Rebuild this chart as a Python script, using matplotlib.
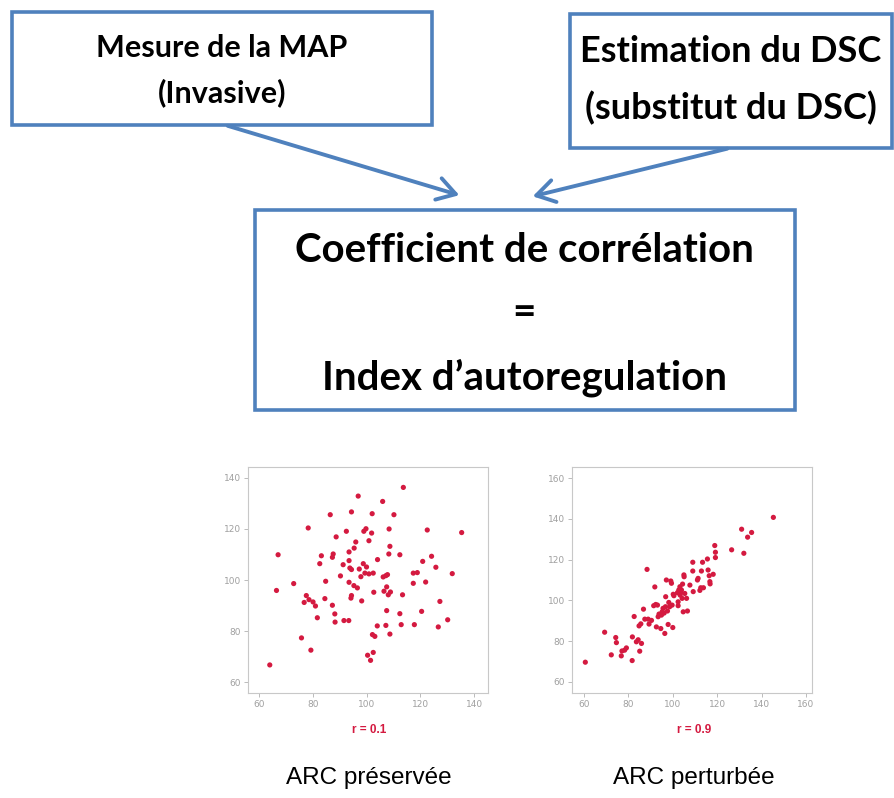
import numpy as np
import matplotlib
matplotlib.use("Agg")
import matplotlib.pyplot as plt
from matplotlib.patches import Rectangle, FancyArrowPatch

pres_x = [64.0, 66.5, 67.1, 72.9, 75.8, 78.3, 79.3, 76.8, 77.6, 78.6, 80.1, 81.0, 81.7, 82.6,
          83.2, 84.5, 84.8, 86.5, 87.3, 87.6, 87.3, 88.2, 88.3, 88.7, 90.3, 91.3, 91.6, 92.5,
          93.4, 93.5, 93.5, 93.8, 93.5, 94.4, 94.2, 94.4, 94.4, 95.4, 96.0, 95.3, 96.6, 96.9,
          97.3, 97.9, 98.2, 98.8, 99.0, 99.4, 99.8, 100.0, 100.9, 100.9, 100.4, 101.5, 101.9,
          102.1, 102.5, 102.2, 102.5, 103.1, 102.7, 104.1, 104.0, 106.0, 106.2, 106.5, 107.2,
          107.5, 107.5, 107.2, 107.8, 108.1, 108.3, 108.4, 108.7, 108.7, 108.9, 110.2, 112.4,
          112.4, 112.9, 113.4, 113.7, 117.4, 117.4, 117.8, 118.9, 120.5, 120.9, 122.0, 122.6,
          124.2, 125.8, 126.7, 127.3, 130.2, 131.9, 135.4]
pres_y = [66.7, 95.9, 109.9, 98.6, 77.3, 120.4, 72.5, 91.2, 93.9, 92.3, 91.4, 89.8, 85.2, 106.4,
          109.5, 92.7, 99.5, 125.6, 90.1, 110.2, 108.9, 86.7, 83.5, 116.9, 101.6, 106.0, 84.1,
          119.1, 84.1, 111.0, 107.6, 104.7, 99.1, 104.1, 92.9, 93.9, 126.7, 112.5, 114.9, 97.8,
          96.9, 132.9, 104.3, 101.3, 91.8, 106.4, 119.1, 102.7, 120.1, 105.1, 102.4, 115.4, 70.5,
          68.5, 118.4, 126.0, 102.7, 78.6, 71.6, 77.9, 95.2, 108.0, 82.0, 130.8, 101.2, 95.6,
          101.7, 97.3, 88.0, 82.2, 102.1, 94.2, 110.2, 120.0, 113.2, 78.8, 95.3, 125.6, 109.9,
          86.8, 82.5, 94.2, 136.3, 102.7, 98.7, 82.5, 102.9, 87.7, 107.3, 99.2, 119.6, 109.3,
          105.0, 81.6, 91.6, 84.4, 102.5, 118.6]

pert_x = [60.6, 69.3, 72.3, 74.3, 74.6, 76.8, 77.1, 78.3, 79.1, 81.7, 81.8, 82.6, 83.6, 84.4,
          84.8, 85.1, 85.6, 85.9, 86.8, 87.4, 88.4, 88.9, 89.3, 90.4, 91.4, 91.9, 92.3, 92.6,
          93.1, 93.4, 93.8, 94.6, 94.9, 95.2, 95.6, 96.1, 96.4, 96.7, 96.8, 97.1, 97.6, 97.9,
          98.2, 98.6, 99.1, 99.4, 99.7, 100.0, 100.2, 100.5, 102.1, 102.4, 102.7, 103.2, 103.3,
          103.6, 103.9, 104.2, 104.4, 104.7, 105.0, 105.1, 105.4, 106.2, 106.6, 107.7, 109.0,
          109.0, 109.2, 111.1, 111.4, 112.2, 112.6, 112.9, 113.4, 113.8, 115.6, 115.9, 116.4,
          116.7, 118.2, 118.9, 119.2, 119.2, 126.5, 131.0, 132.0, 133.7, 135.5, 145.3, 116.8,
          102.4]
pert_y = [69.7, 84.4, 73.3, 81.8, 79.3, 72.8, 75.2, 75.6, 76.7, 70.5, 82.1, 92.1, 79.7, 80.7,
          87.5, 75.1, 88.5, 78.9, 95.7, 90.8, 115.2, 90.8, 88.4, 90.2, 97.4, 106.6, 98.0, 87.0,
          97.7, 92.0, 93.3, 86.2, 92.8, 94.4, 96.1, 93.8, 83.8, 96.9, 101.8, 110.0, 94.8, 88.2,
          99.0, 96.9, 109.5, 108.4, 97.7, 86.7, 103.0, 102.3, 103.8, 97.4, 105.1, 106.7, 102.6,
          103.8, 105.1, 101.0, 108.0, 94.4, 112.5, 111.6, 103.4, 101.0, 94.8, 107.5, 118.7,
          114.4, 104.3, 110.0, 110.8, 104.9, 106.2, 114.4, 118.7, 106.2, 120.3, 114.9, 112.1,
          109.2, 112.8, 126.9, 123.6, 121.0, 124.8, 134.9, 123.1, 131.0, 133.3, 140.7, 108.1,
          99.3]

box_texts = [["Mesure de la MAP", "(Invasive)"],
             ["Estimation du DSC", "(substitut du DSC)"],
             ["Coefficient de corrélation", "=", "Index d\u2019autoregulation"]]
r_labels = ["r = 0.1", "r = 0.9"]
titles = ["ARC préservée", "ARC perturbée"]

BLUE = "#4F81BD"
RED = "#D41A40"
W, H = 894, 798

fig = plt.figure(figsize=(W / 100, H / 100), dpi=100)
bg = fig.add_axes([0, 0, 1, 1])
bg.set_xlim(0, W)
bg.set_ylim(H, 0)
bg.axis("off")

# cadres bleus
boxes = [(12, 12, 420, 113), (570, 14, 322, 134), (255, 210, 540, 200)]
for (x, y, w, h) in boxes:
    bg.add_patch(Rectangle((x, y), w, h, fill=False, edgecolor=BLUE, lw=2.6))

fnt = "Lato"
bg.text(222, 48, box_texts[0][0], ha="center", va="center", fontsize=22, family=fnt, weight="bold")
bg.text(222, 93, box_texts[0][1], ha="center", va="center", fontsize=22, family=fnt, weight="bold")
bg.text(731, 52, box_texts[1][0], ha="center", va="center", fontsize=26, family=fnt, weight="bold")
bg.text(731, 108, box_texts[1][1], ha="center", va="center", fontsize=26, family=fnt, weight="bold")
for txt, yy in zip(box_texts[2], [250, 313, 378]):
    bg.text(524, yy, txt, ha="center", va="center", fontsize=29, family=fnt, weight="bold")

# flèches
for (x0, y0), (x1, y1) in [((225, 125), (462, 196)), ((730, 148), (530, 197))]:
    bg.add_patch(FancyArrowPatch((x0, y0), (x1, y1), arrowstyle="->,head_length=13,head_width=8",
                                 lw=2.8, color=BLUE, mutation_scale=1))

# nuages de points
def px_axes(x0, y0, x1, y1):
    return fig.add_axes([x0 / W, 1 - y1 / H, (x1 - x0) / W, (y1 - y0) / H])

panels = [
    (px_axes(248, 467, 488, 693), pres_x, pres_y, (55.9, 145.2), (55.7, 144.3), [60, 80, 100, 120, 140], [60, 80, 100, 120, 140]),
    (px_axes(572, 467, 812, 693), pert_x, pert_y, (54.6, 162.7), (54.6, 165.4), [60, 80, 100, 120, 140, 160], [60, 80, 100, 120, 140, 160]),
]
for ax, xs, ys, xl, yl, xt, yt in panels:
    ax.scatter(xs, ys, s=14, color=RED, edgecolors="none", zorder=3)
    ax.set_xlim(*xl)
    ax.set_ylim(*yl)
    ax.set_xticks(xt)
    ax.set_yticks(yt)
    for sp in ax.spines.values():
        sp.set_color("#C8C8C8")
        sp.set_linewidth(0.8)
    ax.tick_params(direction="out", length=3, width=0.7, color="#BBBBBB",
                   labelcolor="#A0A0A0", labelsize=6.5, pad=2)

for xc, r, t in zip([369, 694], r_labels, titles):
    bg.text(xc, 730, r, ha="center", va="center", fontsize=8.5, color=RED, weight="bold",
            family="Liberation Sans")
    bg.text(xc, 778, t, ha="center", va="center", fontsize=17.5, family="Liberation Sans")

fig.savefig("out.png", dpi=100)
